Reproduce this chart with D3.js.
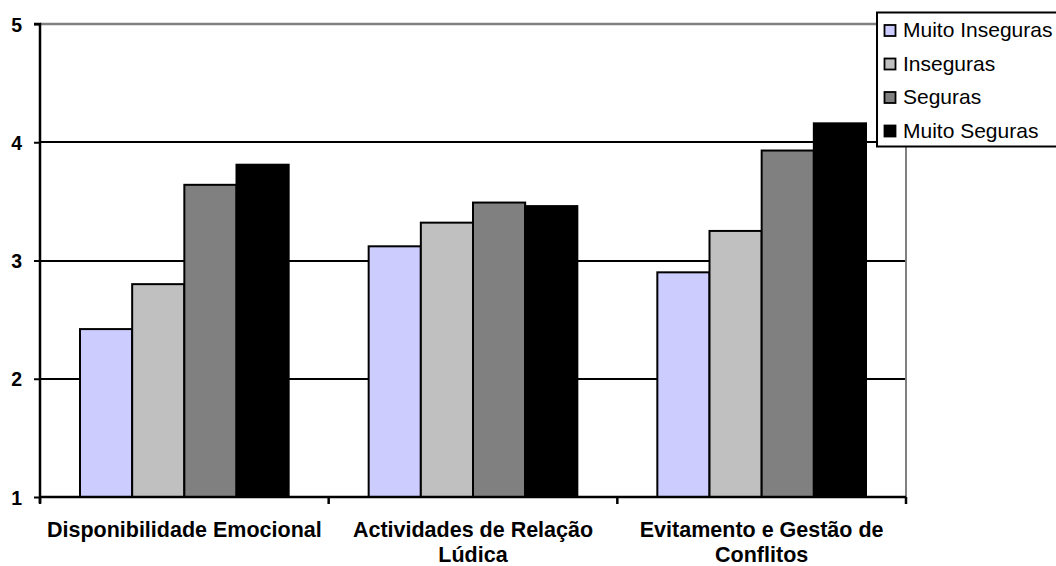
<!DOCTYPE html>
<html><head><meta charset="utf-8">
<script src="https://cdn.jsdelivr.net/npm/d3@7"></script>
<style>
html,body{margin:0;padding:0;background:#fff;}
svg{display:block;font-family:"Liberation Sans",Arial,sans-serif;}
</style></head>
<body>
<svg id="chart" width="1056" height="566"></svg>
<script>
const categories = ["Disponibilidade Emocional", "Actividades de Relação Lúdica", "Evitamento e Gestão de Conflitos"];
const categoryLines = [["Disponibilidade Emocional"], ["Actividades de Relação", "Lúdica"], ["Evitamento e Gestão de", "Conflitos"]];
const series = ["Muito Inseguras", "Inseguras", "Seguras", "Muito Seguras"];
const colors = ["#CCCCFF", "#C0C0C0", "#808080", "#000000"];
const muitoInseguras = [2.42, 3.12, 2.90];
const inseguras = [2.80, 3.32, 3.25];
const seguras = [3.64, 3.49, 3.93];
const muitoSeguras = [3.81, 3.46, 4.16];
const yTicks = [1, 2, 3, 4, 5];

const values = [muitoInseguras, inseguras, seguras, muitoSeguras];
const svg = d3.select("#chart");
const L = 40, R = 906, T = 24, B = 497;

const x0 = d3.scaleBand().domain(categories).range([L, R]).padding(0);
const gap = 40;
const x1 = d3.scaleBand().domain(series).range([gap, x0.bandwidth() - gap]).padding(0);
const y = d3.scaleLinear().domain([1, 5]).range([B, T]);

// gridlines
svg.append("g").selectAll("line").data(yTicks.filter(t => t > 1 && t < 5)).join("line")
  .attr("x1", L).attr("x2", R).attr("y1", d => Math.round(y(d))).attr("y2", d => Math.round(y(d)))
  .attr("stroke", "#000").attr("stroke-width", 2);

// plot border top/right (gray)
svg.append("line").attr("x1", L).attr("x2", R).attr("y1", y(5)).attr("y2", y(5))
  .attr("stroke", "#808080").attr("stroke-width", 2.5);
svg.append("line").attr("x1", R).attr("x2", R).attr("y1", y(5)).attr("y2", B)
  .attr("stroke", "#808080").attr("stroke-width", 2);

// bars
const rows = [];
categories.forEach((c, i) => series.forEach((s, j) => rows.push({c, s, j, v: values[j][i]})));
svg.append("g").selectAll("rect").data(rows).join("rect")
  .attr("x", d => x0(d.c) + x1(d.s))
  .attr("width", x1.bandwidth())
  .attr("y", d => y(d.v))
  .attr("height", d => y(1) - y(d.v))
  .attr("fill", d => colors[d.j])
  .attr("stroke", "#000").attr("stroke-width", 2);

// y axis
const yAxis = d3.axisLeft(y).tickValues(yTicks).tickSize(6).tickPadding(6).tickFormat(d3.format("d"));
const gy = svg.append("g").attr("transform", `translate(${L},0)`).call(yAxis);
gy.select(".domain").attr("stroke", "#000").attr("stroke-width", 2.5).attr("d", `M-6,${T}H0V${B + 6}`);
gy.selectAll(".tick line").attr("stroke", "#000").attr("stroke-width", 2);
gy.selectAll(".tick text").attr("font-size", 19.5).attr("font-weight", "bold").attr("fill", "#000")
  .attr("font-family", "'Liberation Sans',Arial,sans-serif").attr("x", -18).attr("dy", "0.36em");

// x axis
const xAxis = d3.axisBottom(x0).tickSize(0).tickFormat("");
const gx = svg.append("g").attr("transform", `translate(0,${B})`).call(xAxis);
gx.select(".domain").attr("stroke", "#000").attr("stroke-width", 2.5).attr("d", `M${L},0H${R}`);
const edges = [L].concat(categories.map(c => x0(c) + x0.bandwidth()));
gx.selectAll("line.edge").data(edges).join("line").attr("class", "edge")
  .attr("x1", d => d).attr("x2", d => d).attr("y1", 0).attr("y2", 7)
  .attr("stroke", "#000").attr("stroke-width", 2.5);

// category labels
categories.forEach((c, i) => {
  const t = svg.append("text").attr("x", x0(c) + x0.bandwidth() / 2).attr("y", 537)
    .attr("text-anchor", "middle").attr("font-size", 21.5).attr("font-weight", "bold").attr("fill", "#000");
  categoryLines[i].forEach((ln, k) => t.append("tspan").attr("x", x0(c) + x0.bandwidth() / 2).attr("dy", k === 0 ? 0 : 25).text(ln));
});

// legend
const lg = svg.append("g");
lg.append("rect").attr("x", 877).attr("y", 12.5).attr("width", 190).attr("height", 134)
  .attr("fill", "#fff").attr("stroke", "#000").attr("stroke-width", 2);
series.forEach((s, j) => {
  const yy = 37 + j * 33.5;
  lg.append("rect").attr("x", 884.5).attr("y", yy - 12).attr("width", 11).attr("height", 11)
    .attr("fill", colors[j]).attr("stroke", "#000").attr("stroke-width", 1.8);
  lg.append("text").attr("x", 903).attr("y", yy).attr("font-size", 21).attr("fill", "#000").text(s);
});
</script>
</body></html>
